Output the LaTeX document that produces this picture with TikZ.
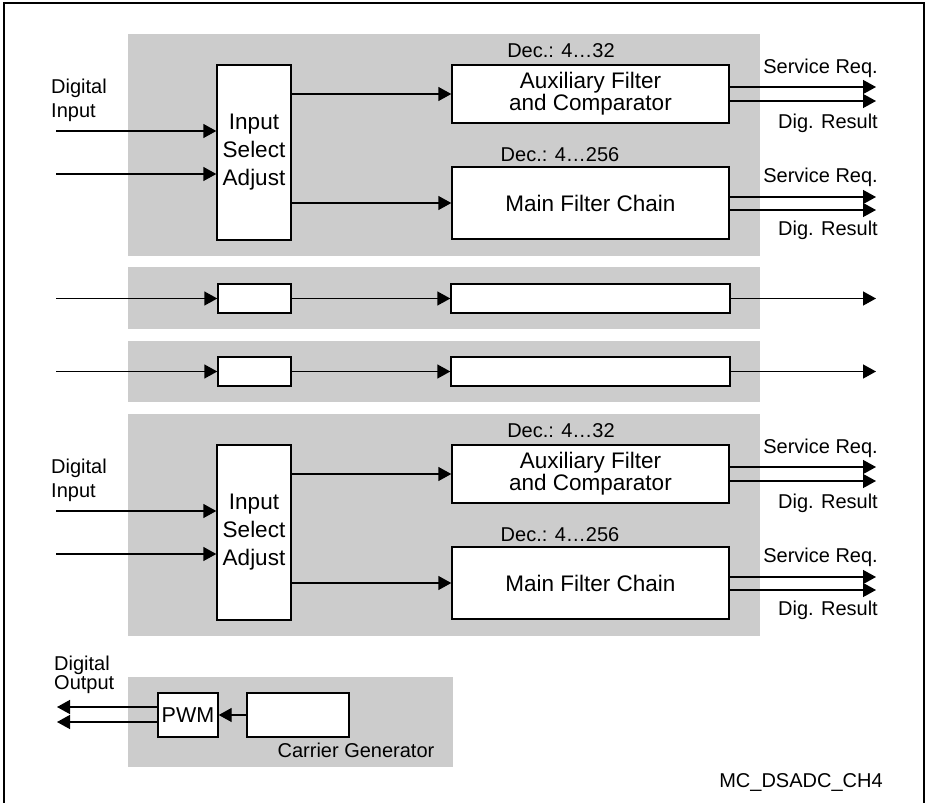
\documentclass[tikz,border=0pt]{standalone}
\usepackage{fontspec}
\setmainfont{Liberation Sans}
\usetikzlibrary{arrows.meta}

\tikzset{
  band/.style={fill=black!20,draw=none},
  blk/.style={draw,fill=white,line width=1.4pt,inner sep=0pt,align=center,
    font=\fontsize{22.5}{26}\selectfont},
  sig/.style={line width=1.4pt,-{Triangle[length=13pt,width=14pt]}},
  lbl/.style={font=\fontsize{20}{24}\selectfont,inner sep=0pt},
}

\begin{document}
\begin{tikzpicture}[x=1pt,y=-1pt]
  \useasboundingbox (0,0) rectangle (927,803);
  % frame
  \draw[line width=2pt] (4,830) -- (4,3) -- (924,3) -- (924,830);
  % gray bands
  \fill[band] (128,34) rectangle (760,256);
  \fill[band] (128,267) rectangle (760,329);
  \fill[band] (128,341) rectangle (760,402);
  \fill[band] (128,414) rectangle (760,636);
  \fill[band] (128,677) rectangle (453,767);

  % first channel
  \node[blk,minimum width=74pt,minimum height=175pt,font=\fontsize{22.5}{28}\selectfont]
        (isa1) at (254,152.5) {Input\\Select\\Adjust};
  \node[blk,minimum width=277pt,minimum height=58pt,font=\fontsize{22.5}{20.5}\selectfont]
        (aux1) at (590.5,94) {Auxiliary Filter\\and Comparator};
  \node[blk,minimum width=277pt,minimum height=72pt] (main1) at (590.5,203) {Main Filter Chain};
  \node[lbl] (dec1a) at (561,51) {Dec.: 4\ldots32};
  \node[lbl] (dec1b) at (560,155) {Dec.: 4\ldots256};
  \node[lbl,align=left,anchor=west] (din1) at (51,100) {Digital\\Input};
  \coordinate (in1a) at (56,131);
  \coordinate (in1b) at (56,174);
  \draw[sig] (in1a) -- (isa1.west |- in1a);
  \draw[sig] (in1b) -- (isa1.west |- in1b);
  \draw[sig] (isa1.east |- aux1) -- (aux1.west);
  \draw[sig] (isa1.east |- main1) -- (main1.west);
  \coordinate (o1a) at (876,87);
  \coordinate (o1b) at (876,101);
  \coordinate (o1c) at (876,197);
  \coordinate (o1d) at (876,210);
  \draw[sig] (aux1.east |- o1a) -- (o1a);
  \draw[sig] (aux1.east |- o1b) -- (o1b);
  \draw[sig] (main1.east |- o1c) -- (o1c);
  \draw[sig] (main1.east |- o1d) -- (o1d);
  \node[lbl,anchor=east] (sr1a) at (878,68) {Service Req.};
  \node[lbl,anchor=east] (dr1a) at (878,123) {Dig. Result};
  \node[lbl,anchor=east] (sr1b) at (878,177) {Service Req.};
  \node[lbl,anchor=east] (dr1b) at (878,230) {Dig. Result};

  % second and third channel (short form)
  \node[blk,minimum width=73pt,minimum height=29pt] (isa2) at (254.5,298.5) {};
  \node[blk,minimum width=279pt,minimum height=29pt] (flt2) at (590.5,298.5) {};
  \coordinate (in2) at (56,298.5);
  \coordinate (out2) at (876,298.5);
  \draw[sig] (in2) -- (isa2.west);
  \draw[sig] (isa2.east) -- (flt2.west);
  \draw[sig] (flt2.east) -- (out2);
  \node[blk,minimum width=73pt,minimum height=29pt] (isa3) at (254.5,371.5) {};
  \node[blk,minimum width=279pt,minimum height=29pt] (flt3) at (590.5,371.5) {};
  \coordinate (in3) at (56,371.5);
  \coordinate (out3) at (876,371.5);
  \draw[sig] (in3) -- (isa3.west);
  \draw[sig] (isa3.east) -- (flt3.west);
  \draw[sig] (flt3.east) -- (out3);

  % fourth channel
  \node[blk,minimum width=74pt,minimum height=175pt,font=\fontsize{22.5}{28}\selectfont]
        (isa4) at (254,532.5) {Input\\Select\\Adjust};
  \node[blk,minimum width=277pt,minimum height=58pt,font=\fontsize{22.5}{20.5}\selectfont]
        (aux4) at (590.5,474) {Auxiliary Filter\\and Comparator};
  \node[blk,minimum width=277pt,minimum height=72pt] (main4) at (590.5,583) {Main Filter Chain};
  \node[lbl] (dec4a) at (561,431) {Dec.: 4\ldots32};
  \node[lbl] (dec4b) at (560,535) {Dec.: 4\ldots256};
  \node[lbl,align=left,anchor=west] (din4) at (51,480) {Digital\\Input};
  \coordinate (in4a) at (56,511);
  \coordinate (in4b) at (56,554);
  \draw[sig] (in4a) -- (isa4.west |- in4a);
  \draw[sig] (in4b) -- (isa4.west |- in4b);
  \draw[sig] (isa4.east |- aux4) -- (aux4.west);
  \draw[sig] (isa4.east |- main4) -- (main4.west);
  \coordinate (o4a) at (876,467);
  \coordinate (o4b) at (876,481);
  \coordinate (o4c) at (876,577);
  \coordinate (o4d) at (876,590);
  \draw[sig] (aux4.east |- o4a) -- (o4a);
  \draw[sig] (aux4.east |- o4b) -- (o4b);
  \draw[sig] (main4.east |- o4c) -- (o4c);
  \draw[sig] (main4.east |- o4d) -- (o4d);
  \node[lbl,anchor=east] (sr4a) at (878,448) {Service Req.};
  \node[lbl,anchor=east] (dr4a) at (878,503) {Dig. Result};
  \node[lbl,anchor=east] (sr4b) at (878,557) {Service Req.};
  \node[lbl,anchor=east] (dr4b) at (878,610) {Dig. Result};

  % carrier generator and PWM
  \node[blk,minimum width=60pt,minimum height=44pt,font=\fontsize{21.5}{24}\selectfont] (pwm) at (188,715) {PWM};
  \node[blk,minimum width=102pt,minimum height=44pt] (carr) at (298,715) {};
  \draw[sig] (carr.west) -- (pwm.east);
  \coordinate (dout1) at (57,707);
  \coordinate (dout2) at (57,722);
  \draw[sig] (pwm.west |- dout1) -- (dout1);
  \draw[sig] (pwm.west |- dout2) -- (dout2);
  \node[lbl,align=left,anchor=west,font=\fontsize{20}{18}\selectfont] (dout) at (54,675) {Digital\\Output};
  \node[lbl] (cgen) at (356,750) {Carrier Generator};

  \node[lbl] (fig) at (801,782) {MC\_DSADC\_CH4};
\end{tikzpicture}
\end{document}
